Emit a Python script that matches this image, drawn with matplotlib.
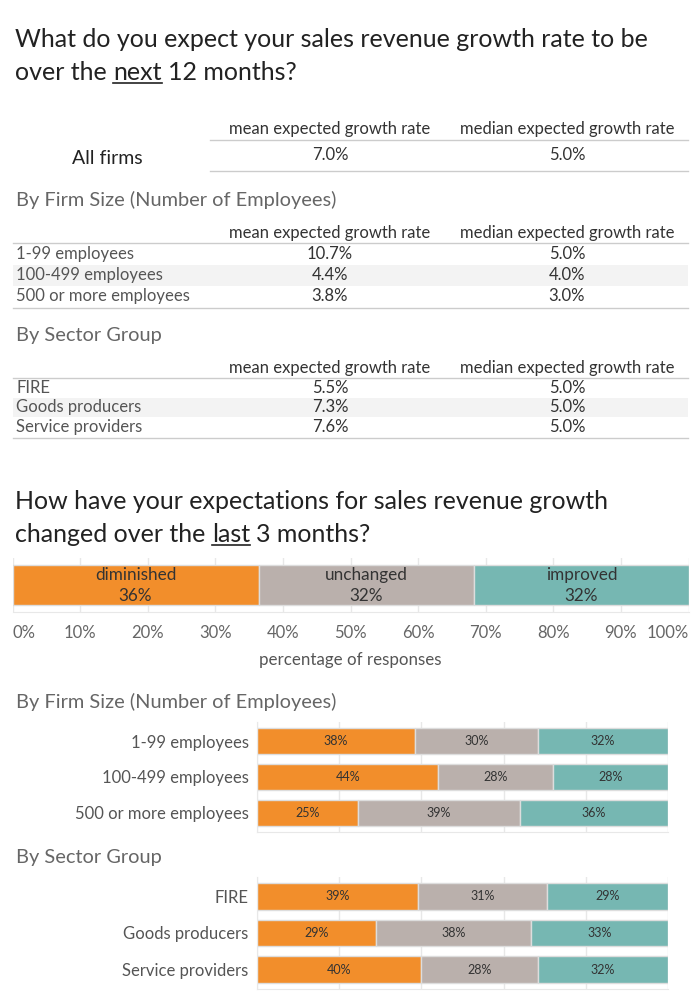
import matplotlib
matplotlib.use("Agg")
import matplotlib.pyplot as plt

plt.rcParams['font.family'] = ['Lato', 'DejaVu Sans']

# ---------------- data ----------------
table_cols = ['mean expected growth rate', 'median expected growth rate']
all_mean = 7.0
all_median = 5.0
size_names = ['1-99 employees', '100-499 employees', '500 or more employees']
size_mean = [10.7, 4.4, 3.8]
size_median = [5.0, 4.0, 3.0]
sector_names = ['FIRE', 'Goods producers', 'Service providers']
sector_mean = [5.5, 7.3, 7.6]
sector_median = [5.0, 5.0, 5.0]

change_cats = ['diminished', 'unchanged', 'improved']
all_change = [36.4, 31.9, 31.7]
size_diminished = [38.4, 44.1, 24.6]
size_unchanged = [30.0, 27.9, 39.3]
size_improved = [31.6, 28.0, 36.1]
sector_diminished = [39.2, 29.0, 40.0]
sector_unchanged = [31.4, 37.6, 28.3]
sector_improved = [29.4, 33.4, 31.7]
pct_ticks = [0, 10, 20, 30, 40, 50, 60, 70, 80, 90, 100]

colors = ['#F28E2B', '#BAB0AC', '#76B7B2']
W, H = 700, 1000

fig = plt.figure(figsize=(7, 10), dpi=100)
bg = fig.add_axes([0, 0, 1, 1])
bg.set_xlim(0, W)
bg.set_ylim(H, 0)
bg.axis('off')

TXT = '#333333'
GRAY = '#666666'
LINE = '#cccccc'
TS = 12  # table font size

def ax_px(x0, y0, x1, y1):
    return fig.add_axes([x0 / W, 1 - y1 / H, (x1 - x0) / W, (y1 - y0) / H])

renderer = fig.canvas.get_renderer()

def title_with_underline(x, y, pre, word, post, size):
    t1 = bg.text(x, y, pre, fontsize=size, color='#222222', va='baseline', ha='left')
    bb = t1.get_window_extent(renderer)
    sp = bg.text(0, 0, 'a a', fontsize=size)
    sp2 = bg.text(0, 0, 'aa', fontsize=size)
    spw = sp.get_window_extent(renderer).width - sp2.get_window_extent(renderer).width
    sp.remove(); sp2.remove()
    x1 = x + bb.width + spw
    t2 = bg.text(x1, y, word, fontsize=size, color='#222222', va='baseline', ha='left')
    bw = t2.get_window_extent(renderer).width
    bg.plot([x1, x1 + bw], [y + 3, y + 3], color='#222222', lw=1.2)
    bg.text(x1 + bw + spw, y, post, fontsize=size, color='#222222', va='baseline', ha='left')

# ---------------- Title 1 ----------------
bg.text(15, 47, 'What do you expect your sales revenue growth rate to be',
        fontsize=18, color='#222222', va='baseline', ha='left')
title_with_underline(15, 80, 'over the', 'next', '12 months?', 18)

# ---------------- Table: All firms ----------------
colx = [330, 567]
for cx, c in zip(colx, table_cols):
    bg.text(cx, 129, c, fontsize=TS, color=TXT, ha='center', va='center')
bg.plot([210, 688], [140, 140], color=LINE, lw=1)
bg.text(107, 159, 'All firms', fontsize=14, color='#222222', ha='center', va='center')
bg.text(colx[0], 155, f'{all_mean:.1f}%', fontsize=TS, color=TXT, ha='center', va='center')
bg.text(colx[1], 155, f'{all_median:.1f}%', fontsize=TS, color=TXT, ha='center', va='center')
bg.plot([210, 688], [171, 171], color=LINE, lw=1)

def small_table(ytitle, title, yhead, names, means, medians, row_ys):
    bg.text(16, ytitle, title, fontsize=14.4, color=GRAY, ha='left', va='center')
    for cx, c in zip(colx, table_cols):
        bg.text(cx, yhead, c, fontsize=TS, color=TXT, ha='center', va='center')
    bg.plot([13, 688], [yhead + 10, yhead + 10], color=LINE, lw=1)
    rh = row_ys[1] - row_ys[0]
    bg.fill_between([13, 688], row_ys[1] - rh / 2, row_ys[1] + rh / 2, color='#f3f3f3', lw=0)
    for yy, n, m, md in zip(row_ys, names, means, medians):
        bg.text(16, yy, n, fontsize=TS, color='#555555', ha='left', va='center')
        bg.text(colx[0], yy, f'{m:.1f}%', fontsize=TS, color=TXT, ha='center', va='center')
        bg.text(colx[1], yy, f'{md:.1f}%', fontsize=TS, color=TXT, ha='center', va='center')
    bg.plot([13, 688], [row_ys[-1] + rh / 2 + 1, row_ys[-1] + rh / 2 + 1], color=LINE, lw=1)

small_table(200, 'By Firm Size (Number of Employees)', 233, size_names, size_mean, size_median,
            [254, 275, 296])
small_table(336, 'By Sector Group', 368, sector_names, sector_mean, sector_median,
            [388, 407, 427])

# ---------------- Title 2 ----------------
bg.text(15, 509, 'How have your expectations for sales revenue growth',
        fontsize=18, color='#222222', va='baseline', ha='left')
title_with_underline(15, 542, 'changed over the', 'last', '3 months?', 18)

# ---------------- Top bar ----------------
GRID = '#e8e8e8'
ax1 = ax_px(12.5, 558, 688.5, 612)
left = 0
for v, c, lab in zip(all_change, colors, change_cats):
    ax1.barh(0, v, left=left, height=0.74, color=c, edgecolor='#dddddd', lw=1)
    ax1.text(left + v / 2, 0.18, lab, ha='center', va='center', fontsize=12.3, color='#333333')
    ax1.text(left + v / 2, -0.2, f'{round(v):.0f}%', ha='center', va='center', fontsize=12.3, color='#333333')
    left += v
ax1.set_xlim(0, 100)
ax1.set_ylim(-0.5, 0.5)
ax1.set_xticks(pct_ticks)
ax1.set_xticklabels([f'{t}%' for t in pct_ticks])
ax1.tick_params(axis='x', length=0, labelsize=12, labelcolor='#666666', pad=9)
for i, lbl in enumerate(ax1.get_xticklabels()):
    if i == 0:
        lbl.set_ha('left')
    elif i == len(pct_ticks) - 1:
        lbl.set_ha('right')
ax1.set_yticks([])
ax1.grid(axis='x', color=GRID, lw=1)
ax1.set_axisbelow(True)
for s in ['top', 'left', 'right']:
    ax1.spines[s].set_visible(False)
ax1.spines['bottom'].set_color(GRID)
ax1.set_xlabel('percentage of responses', fontsize=12.2, color='#555555', labelpad=8)

# ---------------- Bottom stacked bars ----------------
def stacked(ax, names, d, u, i):
    y = list(range(len(names)))
    ax.barh(y, d, height=0.72, color=colors[0], edgecolor='#dddddd', lw=1)
    ax.barh(y, u, left=d, height=0.72, color=colors[1], edgecolor='#dddddd', lw=1)
    lefts = [a + b for a, b in zip(d, u)]
    ax.barh(y, i, left=lefts, height=0.72, color=colors[2], edgecolor='#dddddd', lw=1)
    for k in range(len(names)):
        ax.text(d[k] / 2, y[k], f'{round(d[k]):.0f}%', ha='center', va='center', fontsize=9, color='#333333')
        ax.text(d[k] + u[k] / 2, y[k], f'{round(u[k]):.0f}%', ha='center', va='center', fontsize=9, color='#333333')
        ax.text(lefts[k] + i[k] / 2, y[k], f'{round(i[k]):.0f}%', ha='center', va='center', fontsize=9, color='#333333')
    ax.set_xlim(0, 100)
    ax.set_ylim(len(names) - 0.47, -0.53)
    ax.set_yticks(y)
    ax.set_yticklabels(names)
    ax.tick_params(axis='y', length=0, labelsize=12, labelcolor='#555555', pad=6)
    ax.set_xticks([0, 20, 40, 60, 80, 100])
    ax.tick_params(axis='x', length=0, labelbottom=False)
    ax.grid(axis='x', color=GRID, lw=1)
    ax.set_axisbelow(True)
    for s in ['top', 'right']:
        ax.spines[s].set_visible(False)
    ax.spines['left'].set_color(GRID)
    ax.spines['bottom'].set_color(GRID)

bg.text(16, 702, 'By Firm Size (Number of Employees)', fontsize=14.4, color=GRAY, ha='left', va='center')
ax2 = ax_px(257, 722, 668, 832)
stacked(ax2, size_names, size_diminished, size_unchanged, size_improved)

bg.text(16, 857, 'By Sector Group', fontsize=14.4, color=GRAY, ha='left', va='center')
ax3 = ax_px(257, 877, 668, 989)
stacked(ax3, sector_names, sector_diminished, sector_unchanged, sector_improved)

fig.savefig('out.png', dpi=100)
